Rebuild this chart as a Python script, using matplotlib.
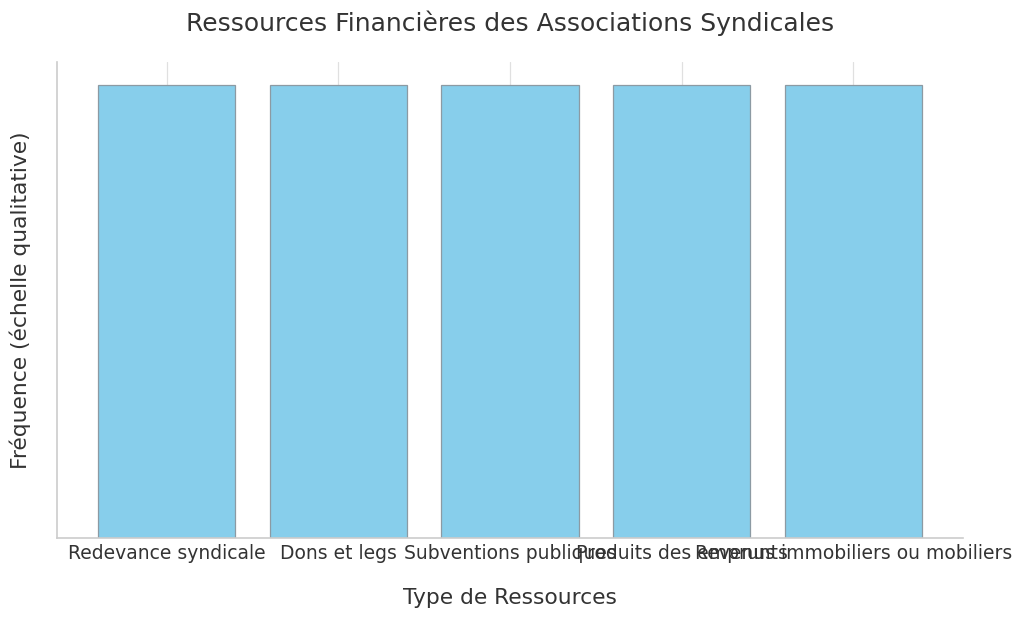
import matplotlib
matplotlib.use("Agg")
import matplotlib.pyplot as plt
import seaborn as sns

# Data
ressources = ["Redevance syndicale", "Dons et legs", "Subventions publiques",
              "Produits des emprunts", "Revenus immobiliers ou mobiliers"]
frequence = [1, 1, 1, 1, 1]

sns.set_style("whitegrid")
plt.rcParams["font.family"] = ["DejaVu Sans"]
text_col = "#333333"

fig, ax = plt.subplots(figsize=(10.24, 6.19), dpi=100)
fig.subplots_adjust(left=0.0557, right=0.9404, bottom=0.1309, top=0.8998)

ax.bar(ressources, frequence, color="skyblue", edgecolor="#8c9aa3", linewidth=0.9)

ax.set_title("Ressources Financières des Associations Syndicales",
             fontsize=18, color=text_col, pad=22)
ax.set_xlabel("Type de Ressources", fontsize=15.7, color=text_col, labelpad=18)
ax.set_ylabel("Fréquence (échelle qualitative)", fontsize=15.7, color=text_col, labelpad=19)
ax.set_yticks([])
ax.tick_params(axis="x", labelsize=13.5, colors=text_col, pad=1)
ax.grid(axis="y", visible=False)
ax.grid(axis="x", color="#e0e0e0", linewidth=0.9)
ax.set_axisbelow(True)

sns.despine(ax=ax)
for s in ["left", "bottom"]:
    ax.spines[s].set_color("#cccccc")
    ax.spines[s].set_linewidth(1.2)

fig.savefig("out.png", dpi=100)
